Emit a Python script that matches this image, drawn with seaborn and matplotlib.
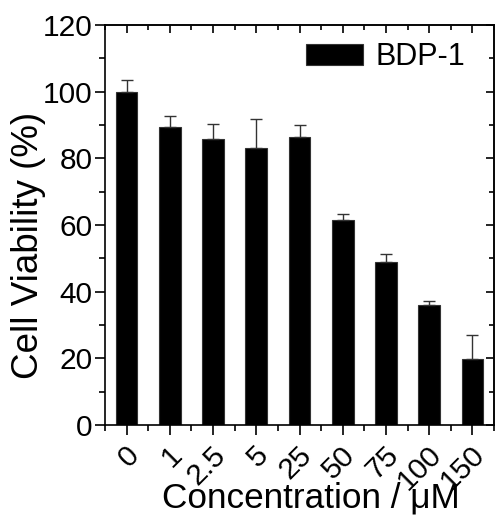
import matplotlib
matplotlib.use("Agg")
import matplotlib.pyplot as plt
import matplotlib.transforms as mtransforms
import seaborn as sns
import numpy as np
import pandas as pd
from matplotlib.ticker import MultipleLocator, FixedLocator

concentrations = ["0", "1", "2.5", "5", "25", "50", "75", "100", "150"]
viability = [100, 89.4, 85.8, 83.0, 86.3, 61.5, 49.0, 36.0, 19.8]
errors = [3.5, 3.3, 4.5, 8.8, 3.6, 1.8, 2.2, 1.2, 7.2]

sns.set_theme(style="ticks")
plt.rcParams['font.family'] = ['Liberation Sans', 'DejaVu Sans']
plt.rcParams['text.color'] = 'black'
plt.rcParams['axes.labelcolor'] = 'black'
plt.rcParams['xtick.color'] = 'black'
plt.rcParams['ytick.color'] = 'black'

df = pd.DataFrame({"conc": concentrations, "viab": viability})

fig = plt.figure(figsize=(4.96, 5.16), dpi=100)
ax = fig.add_axes([105/496, 91/516, 389/496, 400/516])
sns.barplot(data=df, x="conc", y="viab", color="black", width=0.5,
            saturation=1, ax=ax, label="BDP-1", errorbar=None)
for p in ax.patches:
    p.set_edgecolor("#333333")
    p.set_linewidth(0.8)

xs = [p.get_x() + p.get_width() / 2 for p in ax.patches[:len(viability)]]
ax.errorbar(xs, viability, yerr=[np.zeros(len(errors)), errors], fmt="none",
            ecolor="#333333", elinewidth=1.0, capsize=4, capthick=1.0)

ax.set_xlim(-0.5, 8.5)
ax.set_ylim(0, 120)
ax.yaxis.set_major_locator(MultipleLocator(20))
ax.yaxis.set_minor_locator(MultipleLocator(10))
ax.xaxis.set_minor_locator(FixedLocator(np.arange(-0.5, 9, 1.0)))

for s in ax.spines.values():
    s.set_linewidth(1.2)
    s.set_color("black")

ax.tick_params(axis="both", which="major", direction="out", length=7, width=1.2,
               labelsize=21.5, colors="black", pad=2)
ax.tick_params(axis="both", which="minor", direction="out", length=4, width=1.2)
ax.set_xticks(range(len(concentrations)))
ax.set_xticklabels(concentrations, rotation=45, ha="right", va="center",
                   rotation_mode="anchor")
offset = mtransforms.ScaledTranslation(8/100, -13/100, fig.dpi_scale_trans)
for lbl in ax.get_xticklabels():
    lbl.set_transform(lbl.get_transform() + offset)

sec_top = ax.secondary_xaxis("top")
sec_top.set_xticks(range(len(concentrations)))
sec_top.xaxis.set_minor_locator(FixedLocator(np.arange(-0.5, 9, 1.0)))
sec_top.tick_params(which="major", direction="in", length=6, width=1.2, labeltop=False)
sec_top.tick_params(which="minor", direction="in", length=3.5, width=1.2)
sec_top.spines["top"].set_linewidth(1.2)

sec_r = ax.secondary_yaxis("right")
sec_r.yaxis.set_major_locator(MultipleLocator(20))
sec_r.yaxis.set_minor_locator(MultipleLocator(10))
sec_r.tick_params(which="major", direction="in", length=6, width=1.2, labelright=False)
sec_r.tick_params(which="minor", direction="in", length=3.5, width=1.2)
sec_r.spines["right"].set_linewidth(1.2)

ax.set_xlabel("Concentration / \u03bcM", fontsize=25.3)
ax.xaxis.set_label_coords((311 - 105) / 389, -0.1425)
ax.set_ylabel("Cell Viability (%)", fontsize=26.5)
ax.yaxis.set_label_coords(-0.152, 0.45)

leg = ax.legend(loc="upper right", frameon=False, fontsize=22,
                handlelength=1.87, handleheight=0.65, handletextpad=0.4,
                borderaxespad=0.2, bbox_to_anchor=(0.973, 1.003))

fig.savefig("out.png", dpi=100)
